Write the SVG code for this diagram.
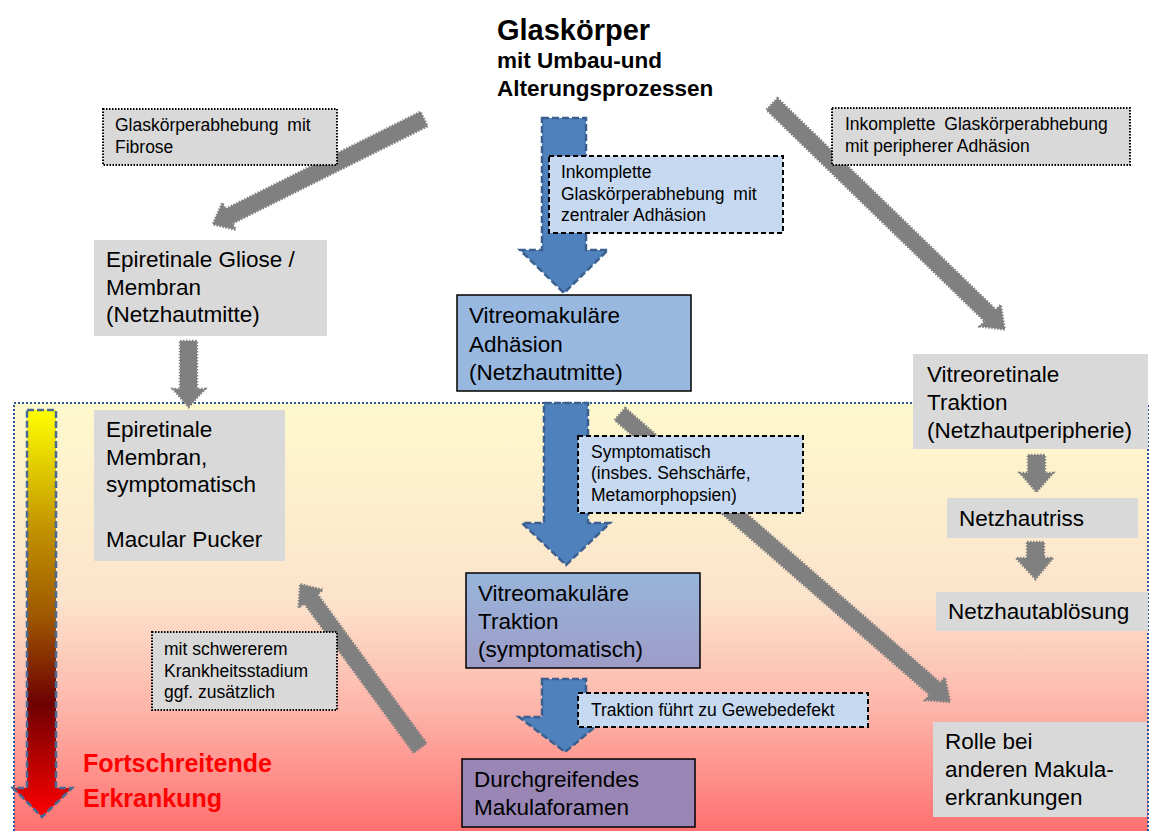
<svg xmlns="http://www.w3.org/2000/svg" width="1150" height="831" viewBox="0 0 1150 831">
<defs>
<linearGradient id="bg" x1="0" y1="0" x2="0" y2="1">
<stop offset="0" stop-color="#FEF9CD"/>
<stop offset="0.45" stop-color="#FCE3CC"/>
<stop offset="0.7" stop-color="#FDB4A9"/>
<stop offset="1" stop-color="#FF6A6A"/>
</linearGradient>
<linearGradient id="prog" x1="0" y1="0" x2="0" y2="1">
<stop offset="0" stop-color="#FFFF00"/>
<stop offset="0.3" stop-color="#C09000"/>
<stop offset="0.5" stop-color="#A05A00"/>
<stop offset="0.72" stop-color="#6E0202"/>
<stop offset="1" stop-color="#FF0000"/>
</linearGradient>
<linearGradient id="trak" x1="0" y1="0" x2="0" y2="1">
<stop offset="0" stop-color="#98B5DA"/>
<stop offset="1" stop-color="#9D9CC7"/>
</linearGradient>
<style>
text{font-family:"Liberation Sans",Arial,sans-serif;fill:#000}
.n{font-size:22.5px}
.s{font-size:17.5px}
.gbox{fill:#D9D9D9}
.gdot{fill:#D9D9D9;stroke:#000;stroke-width:2;stroke-dasharray:1.5,1.5}
.bdash{fill:#C6D9F1;stroke:#000;stroke-width:2;stroke-dasharray:5,3}
.garrow{fill:#808080;stroke:#808080;stroke-width:2.5;stroke-dasharray:1.5,1.5}
.barrow{fill:#4F81BD;stroke:#3B6090;stroke-width:2.5;stroke-dasharray:7,3}
</style>
</defs>

<g id="background">
<rect x="14" y="403" width="1134" height="440" fill="url(#bg)" stroke="#2F5597" stroke-width="2" stroke-dasharray="2,2"/>
</g>

<g id="progression">
<polygon points="27,410 56,410 56,788 72,788 42,817 13,788 27,788" fill="url(#prog)" stroke="#4A6A94" stroke-width="2.5" stroke-dasharray="7,3"/>
<text x="83" y="772" style="font-size:25px;font-weight:bold;fill:#FF0000">Fortschreitende</text>
<text x="83" y="807" style="font-size:25px;font-weight:bold;fill:#FF0000">Erkrankung</text>
</g>

<g id="connectors">
<polygon class="garrow" transform="translate(424,119) rotate(153.5)" points="0,-8 218,-8 218,-15 236,0 218,15 218,8 0,8"/>
<polygon class="garrow" transform="translate(772,104) rotate(44.1)" points="0,-8 304,-8 304,-15 324,0 304,15 304,8 0,8"/>
<polygon class="garrow" transform="translate(620,414) rotate(41.1)" points="0,-8 418,-8 418,-15 438,0 418,15 418,8 0,8"/>
<polygon class="garrow" transform="translate(420,748) rotate(-126.2)" points="0,-8 185,-8 185,-15 203,0 185,15 185,8 0,8"/>
<polygon class="garrow" points="180,341 197,341 197,389 205,389 188.5,407 173,389 180,389"/>
<polygon class="garrow" points="1028,455 1045,455 1045,473 1053,473 1036.5,492 1020,473 1028,473"/>
<polygon class="garrow" points="1027,542 1044,542 1044,558 1053,558 1035.5,579 1016,558 1027,558"/>
<polygon class="barrow" points="542,118 586,118 586,250 608,250 564,293 520,250 542,250"/>
<polygon class="barrow" points="544,403 588,403 588,523 610,523 566,565 522,523 544,523"/>
<polygon class="barrow" points="542,679 586,679 586,717 607,717 565,752 519,717 542,717"/>
</g>

<g id="title">
<text x="497" y="40" style="font-size:29px;font-weight:bold">Glaskörper</text>
<text x="497" y="68" style="font-size:22.5px;font-weight:bold">mit Umbau-und</text>
<text x="497" y="96" style="font-size:22.5px;font-weight:bold">Alterungsprozessen</text>
</g>

<g id="label-fibrose">
<rect class="gdot" x="103" y="109" width="234" height="56"/>
<text class="s" x="115" y="131" word-spacing="4">Glaskörperabhebung mit</text>
<text class="s" x="115" y="153">Fibrose</text>
</g>

<g id="label-zentral">
<rect class="bdash" x="549" y="156" width="234" height="77"/>
<text class="s" x="561" y="178">Inkomplette</text>
<text class="s" x="561" y="200" word-spacing="4">Glaskörperabhebung mit</text>
<text class="s" x="561" y="221">zentraler Adhäsion</text>
</g>

<g id="label-peripher">
<rect class="gdot" x="832" y="108" width="298" height="57"/>
<text class="s" x="845" y="130" word-spacing="4">Inkomplette Glaskörperabhebung</text>
<text class="s" x="845" y="152">mit peripherer Adhäsion</text>
</g>

<g id="node-gliose">
<rect class="gbox" x="94" y="240" width="233" height="96"/>
<text class="n" x="106" y="267">Epiretinale Gliose /</text>
<text class="n" x="106" y="295">Membran</text>
<text class="n" x="106" y="322">(Netzhautmitte)</text>
</g>

<g id="node-adhaesion">
<rect x="457" y="295" width="234" height="96" fill="#98B8E0" stroke="#000" stroke-width="1.5"/>
<text class="n" x="469" y="323">Vitreomakuläre</text>
<text class="n" x="469" y="352">Adhäsion</text>
<text class="n" x="469" y="380">(Netzhautmitte)</text>
</g>

<g id="node-vitreoretinal">
<rect class="gbox" x="913" y="354" width="235" height="95"/>
<text class="n" x="927" y="382">Vitreoretinale</text>
<text class="n" x="927" y="410">Traktion</text>
<text class="n" x="927" y="438">(Netzhautperipherie)</text>
</g>

<g id="node-membran">
<rect class="gbox" x="94" y="410" width="191" height="151"/>
<text class="n" x="106" y="437">Epiretinale</text>
<text class="n" x="106" y="465">Membran,</text>
<text class="n" x="106" y="492">symptomatisch</text>
<text class="n" x="106" y="547">Macular Pucker</text>
</g>

<g id="label-symptomatisch">
<rect class="bdash" x="578" y="436" width="225" height="77"/>
<text class="s" x="591" y="458">Symptomatisch</text>
<text class="s" x="591" y="479">(insbes. Sehschärfe,</text>
<text class="s" x="591" y="501">Metamorphopsien)</text>
</g>

<g id="node-riss">
<rect class="gbox" x="947" y="498" width="191" height="40"/>
<text class="n" x="959" y="526">Netzhautriss</text>
</g>

<g id="node-abloesung">
<rect class="gbox" x="936" y="592" width="212" height="39"/>
<text class="n" x="948" y="619">Netzhautablösung</text>
</g>

<g id="node-traktion">
<rect x="466" y="573" width="234" height="95" fill="url(#trak)" stroke="#000" stroke-width="1.5"/>
<text class="n" x="478" y="601">Vitreomakuläre</text>
<text class="n" x="478" y="629">Traktion</text>
<text class="n" x="478" y="657">(symptomatisch)</text>
</g>

<g id="label-schwerer">
<rect class="gdot" x="152" y="632" width="185" height="78"/>
<text class="s" x="164" y="655">mit schwererem</text>
<text class="s" x="164" y="677">Krankheitsstadium</text>
<text class="s" x="164" y="698">ggf. zusätzlich</text>
</g>

<g id="label-gewebedefekt">
<rect class="bdash" x="578" y="693" width="290" height="34"/>
<text class="s" x="591" y="716">Traktion führt zu Gewebedefekt</text>
</g>

<g id="node-foramen">
<rect x="462" y="759" width="233" height="68" fill="#9986B5" stroke="#000" stroke-width="1.5"/>
<text class="n" x="474" y="787">Durchgreifendes</text>
<text class="n" x="474" y="815">Makulaforamen</text>
</g>

<g id="node-rolle">
<rect class="gbox" x="933" y="722" width="214" height="95"/>
<text class="n" x="945" y="749">Rolle bei</text>
<text class="n" x="945" y="777">anderen Makula-</text>
<text class="n" x="945" y="805">erkrankungen</text>
</g>
</svg>
